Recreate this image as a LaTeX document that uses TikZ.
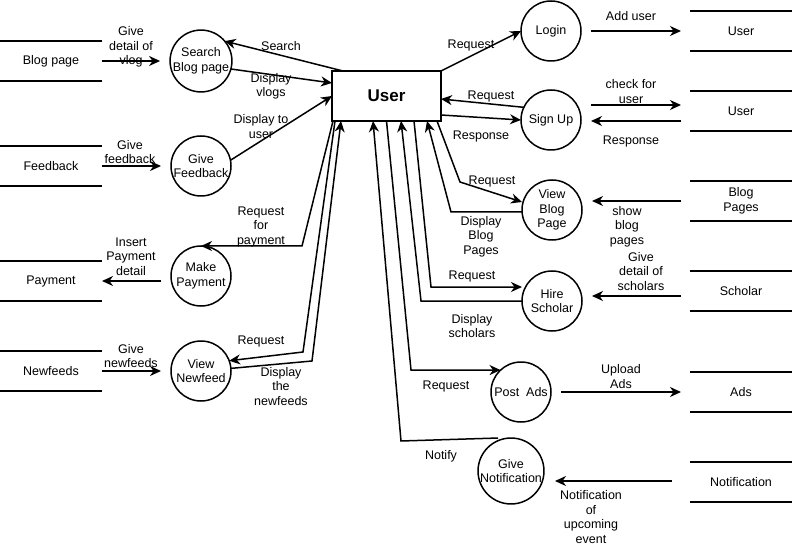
\documentclass[tikz,border=0pt]{standalone}
\usepackage{fontspec}
\setmainfont{Liberation Sans}
\usetikzlibrary{arrows.meta,calc}
\begin{document}
\begin{tikzpicture}[x=1pt,y=-1pt,
  every node/.style={font=\fontsize{12.5}{14.5}\selectfont, align=center, inner sep=0pt, outer sep=0pt},
  proc/.style={draw, circle, line width=1.5pt, minimum size=60pt},
  store/.style={minimum width=102pt, minimum height=40pt},
  storeline/.style={line width=1.5pt},
  flow/.style={line width=1.5pt, -{Stealth[length=11pt,width=10pt,inset=3.5pt]}},
  lbl/.style={}]
\useasboundingbox (0,0) rectangle (792,545);

% central entity
\node[draw, line width=1.5pt, minimum width=109pt, minimum height=50pt,
      font=\fontsize{17}{20}\selectfont\bfseries] (user) at (386.5,96) {User};

% data stores
\node[store] (bps)  at (51,61)   {Blog page};
\node[store] (fbs)  at (51,166)  {Feedback};
\node[store] (pays) at (51,281)  {Payment};
\node[store] (nfs)  at (51,371)  {Newfeeds};
\node[store] (us1)  at (741,31)  {User};
\node[store] (us2)  at (741,111) {User};
\node[store] (bps2) at (741,201) {Blog\\Pages};
\node[store] (sch)  at (741,291) {Scholar};
\node[store] (ads)  at (741,392) {Ads};
\node[store] (nts)  at (741,482) {Notification};
\foreach \s in {bps,fbs,pays,nfs,us1,us2,bps2,sch,ads,nts}
  \draw[storeline] (\s.north west) -- (\s.north east) (\s.south west) -- (\s.south east);

% processes
\node[proc] (search) at (201,61)  {Search\\Blog page};
\node[proc] (fb)     at (201,166) {Give\\Feedback};
\node[proc] (pay)    at (201,276) {Make\\Payment};
\node[proc] (nf)     at (201,371) {View\\Newfeed};
\node[proc] (login)  at (551,31)  {Login};
\node[proc] (signup) at (551,120) {Sign Up};
\node[proc] (vb)     at (552,210) {View\\Blog\\Page};
\node[proc] (hs)     at (552,301) {Hire\\Scholar};
\node[proc] (pa)     at (521,392) {Post\ \ Ads};
\node[proc] (gn)     at (511,471) {Give\\Notification};

% left stores <-> processes
\draw[flow] (bps.east) -- ([xshift=-10pt]search.west);
\draw[flow] (fbs.east) -- ([xshift=-10pt]fb.west);
\draw[flow] ([xshift=-10pt,yshift=-5pt]pay.west) -- (pays.east);
\draw[flow] (nfs.east) -- ([xshift=-10pt]nf.west);

% user <-> left processes
\draw[flow] ([xshift=11pt]user.north west) -- (search.40);
\draw[flow] (search.-15) -- ([yshift=13pt]user.west);
\draw[flow] (fb.11) -- (user.west);
\draw[flow] ([xshift=1pt]user.south west) -- (302,246) -- (pay.north);
\draw[flow] ([xshift=3pt]user.south west) -- (303,352) -- (nf.20);
\draw[flow] (nf.5) -- (312,361) -- ([xshift=9pt]user.south west);

% user <-> right processes
\draw[flow] (user.north east) -- (login.west);
\draw[flow] (signup.155) -- ([yshift=-3pt]user.east);
\draw[flow] ([yshift=-19pt]user.east) -- (signup.180);
\draw[flow] ([xshift=-4pt]user.south east) -- (460,182) -- ([yshift=8pt]vb.west);
\draw[flow] ([yshift=-2pt]vb.west) -- (451,212) -- ([xshift=-14pt]user.south east);
\draw[flow] ([xshift=-27pt]user.south east) -- (431,287) -- ([yshift=14pt]hs.west);
\draw[flow] (hs.west) -- (421,301) -- ([xshift=-40pt]user.south east);
\draw[flow] (user.south) -- (411,370) -- (pa.133);
\draw[flow] ([xshift=-13pt]gn.north) -- (401,441) -- ([xshift=-13.5pt]user.south);

% right processes <-> stores
\draw[flow] ([xshift=10pt]login.east) -- ([xshift=-9pt]us1.west);
\draw[flow] ([xshift=10pt,yshift=15pt]signup.east) -- ([xshift=-9pt,yshift=6pt]us2.west);
\draw[flow] ([xshift=-9pt,yshift=-10pt]us2.west) -- ([xshift=10pt,yshift=-1pt]signup.east);
\draw[flow] ([xshift=-9pt]bps2.west) -- ([xshift=10pt,yshift=9pt]vb.east);
\draw[flow] ([xshift=-9pt,yshift=-5pt]sch.west) -- ([xshift=10pt,yshift=5pt]hs.east);
\draw[flow] ([xshift=10pt]pa.east) -- ([xshift=-9pt]ads.west);
\draw[flow] ([xshift=-18pt,yshift=1pt]nts.west) -- ([xshift=11pt,yshift=-10pt]gn.east);

% labels
\node[lbl] (l1)  at (131,47) {Give\\detail of\\vlog};
\node[lbl] (l2)  at (130,152) {Give\\feedback};
\node[lbl] (l3)  at (131,256.5) {Insert\\Payment\\detail};
\node[lbl] (l4)  at (131,356) {Give\\newfeeds};
\node[lbl] (l5)  at (281,46.5) {Search};
\node[lbl] (l6)  at (271,86.5) {Display\\vlogs};
\node[lbl] (l7)  at (261,126.5) {Display to\\user};
\node[lbl] (l8)  at (261,226.5) {Request\\for\\payment};
\node[lbl] (l9)  at (261,341.5) {Request};
\node[lbl] (l10) at (281,386.5) {Display\\the\\newfeeds};
\node[lbl] (l11) at (471,45.5) {Request};
\node[lbl] (l12) at (491,96.5) {Request};
\node[lbl] (l13) at (481,136.5) {Response};
\node[lbl] (l14) at (492,181.5) {Request};
\node[lbl] (l15) at (481,236.5) {Display\\Blog\\Pages};
\node[lbl] (l16) at (472,276.5) {Request};
\node[lbl] (l17) at (472,326) {Display\\scholars};
\node[lbl] (l18) at (446,386.5) {Request};
\node[lbl] (l19) at (441,456.5) {Notify};
\node[lbl] (l20) at (631,16.5) {Add user};
\node[lbl] (l21) at (631,91.5) {check for\\user};
\node[lbl] (l22) at (631,141.5) {Response};
\node[lbl] (l23) at (627,226.5) {show\\blog\\pages};
\node[lbl] (l24) at (641,271.5) {Give\\detail of\\scholars};
\node[lbl] (l25) at (621,376.5) {Upload\\Ads};
\node[lbl] (l26) at (591,517) {Notification\\of\\upcoming\\event};
\end{tikzpicture}
\end{document}
